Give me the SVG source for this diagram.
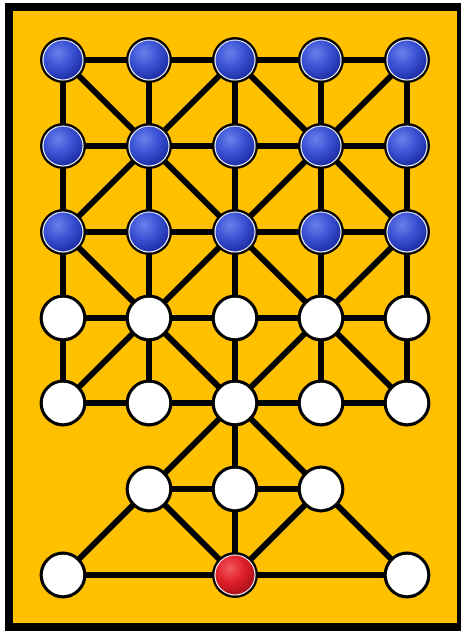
<svg xmlns="http://www.w3.org/2000/svg" width="461" height="631" viewBox="0 0 461 631">
<defs>
<radialGradient id="gBlue" cx="0.38" cy="0.33" r="0.72">
<stop offset="0" stop-color="#6a80ec"/>
<stop offset="0.5" stop-color="#3a52d4"/>
<stop offset="1" stop-color="#1c2ca2"/>
</radialGradient>
<radialGradient id="gRed" cx="0.38" cy="0.33" r="0.72">
<stop offset="0" stop-color="#f25a60"/>
<stop offset="0.5" stop-color="#e0202a"/>
<stop offset="1" stop-color="#a80e18"/>
</radialGradient>
<style>
.ln{stroke:#000;stroke-width:6;stroke-linecap:round;fill:none}
.w{fill:#fff;stroke:#000;stroke-width:3.2}
.bo{fill:#000}
.br{fill:#fff}
</style>
</defs>
<rect x="0" y="0" width="461" height="631" fill="#fff"/>
<rect x="9" y="7" width="452" height="620" fill="#FFC000" stroke="#000" stroke-width="8"/>
<g id="connectors" class="ln">
<line x1="63" y1="60" x2="407" y2="60"/>
<line x1="63" y1="146" x2="407" y2="146"/>
<line x1="63" y1="232" x2="407" y2="232"/>
<line x1="63" y1="318" x2="407" y2="318"/>
<line x1="63" y1="403" x2="407" y2="403"/>
<line x1="63" y1="60" x2="63" y2="403"/>
<line x1="149" y1="60" x2="149" y2="403"/>
<line x1="235" y1="60" x2="235" y2="489"/>
<line x1="321" y1="60" x2="321" y2="403"/>
<line x1="407" y1="60" x2="407" y2="403"/>
<line x1="63" y1="60" x2="407" y2="403"/>
<line x1="407" y1="60" x2="63" y2="403"/>
<line x1="235" y1="60" x2="63" y2="232"/>
<line x1="235" y1="60" x2="407" y2="232"/>
<line x1="63" y1="232" x2="235" y2="403"/>
<line x1="407" y1="232" x2="235" y2="403"/>
<line x1="235" y1="403" x2="63" y2="575"/>
<line x1="235" y1="403" x2="407" y2="575"/>
<line x1="149" y1="489" x2="321" y2="489"/>
<line x1="149" y1="489" x2="235" y2="575"/>
<line x1="321" y1="489" x2="235" y2="575"/>
<line x1="235" y1="489" x2="235" y2="575"/>
<line x1="63" y1="575" x2="407" y2="575"/>
</g>
<g id="b00"><circle class="bo" cx="63" cy="60" r="23"/><circle class="br" cx="63" cy="60" r="20.6"/><circle cx="63" cy="60" r="19.5" fill="url(#gBlue)"/></g>
<g id="b10"><circle class="bo" cx="149" cy="60" r="23"/><circle class="br" cx="149" cy="60" r="20.6"/><circle cx="149" cy="60" r="19.5" fill="url(#gBlue)"/></g>
<g id="b20"><circle class="bo" cx="235" cy="60" r="23"/><circle class="br" cx="235" cy="60" r="20.6"/><circle cx="235" cy="60" r="19.5" fill="url(#gBlue)"/></g>
<g id="b30"><circle class="bo" cx="321" cy="60" r="23"/><circle class="br" cx="321" cy="60" r="20.6"/><circle cx="321" cy="60" r="19.5" fill="url(#gBlue)"/></g>
<g id="b40"><circle class="bo" cx="407" cy="60" r="23"/><circle class="br" cx="407" cy="60" r="20.6"/><circle cx="407" cy="60" r="19.5" fill="url(#gBlue)"/></g>
<g id="b01"><circle class="bo" cx="63" cy="146" r="23"/><circle class="br" cx="63" cy="146" r="20.6"/><circle cx="63" cy="146" r="19.5" fill="url(#gBlue)"/></g>
<g id="b11"><circle class="bo" cx="149" cy="146" r="23"/><circle class="br" cx="149" cy="146" r="20.6"/><circle cx="149" cy="146" r="19.5" fill="url(#gBlue)"/></g>
<g id="b21"><circle class="bo" cx="235" cy="146" r="23"/><circle class="br" cx="235" cy="146" r="20.6"/><circle cx="235" cy="146" r="19.5" fill="url(#gBlue)"/></g>
<g id="b31"><circle class="bo" cx="321" cy="146" r="23"/><circle class="br" cx="321" cy="146" r="20.6"/><circle cx="321" cy="146" r="19.5" fill="url(#gBlue)"/></g>
<g id="b41"><circle class="bo" cx="407" cy="146" r="23"/><circle class="br" cx="407" cy="146" r="20.6"/><circle cx="407" cy="146" r="19.5" fill="url(#gBlue)"/></g>
<g id="b02"><circle class="bo" cx="63" cy="232" r="23"/><circle class="br" cx="63" cy="232" r="20.6"/><circle cx="63" cy="232" r="19.5" fill="url(#gBlue)"/></g>
<g id="b12"><circle class="bo" cx="149" cy="232" r="23"/><circle class="br" cx="149" cy="232" r="20.6"/><circle cx="149" cy="232" r="19.5" fill="url(#gBlue)"/></g>
<g id="b22"><circle class="bo" cx="235" cy="232" r="23"/><circle class="br" cx="235" cy="232" r="20.6"/><circle cx="235" cy="232" r="19.5" fill="url(#gBlue)"/></g>
<g id="b32"><circle class="bo" cx="321" cy="232" r="23"/><circle class="br" cx="321" cy="232" r="20.6"/><circle cx="321" cy="232" r="19.5" fill="url(#gBlue)"/></g>
<g id="b42"><circle class="bo" cx="407" cy="232" r="23"/><circle class="br" cx="407" cy="232" r="20.6"/><circle cx="407" cy="232" r="19.5" fill="url(#gBlue)"/></g>
<g id="w03"><circle class="w" cx="63" cy="318" r="21.8"/></g>
<g id="w13"><circle class="w" cx="149" cy="318" r="21.8"/></g>
<g id="w23"><circle class="w" cx="235" cy="318" r="21.8"/></g>
<g id="w33"><circle class="w" cx="321" cy="318" r="21.8"/></g>
<g id="w43"><circle class="w" cx="407" cy="318" r="21.8"/></g>
<g id="w04"><circle class="w" cx="63" cy="403" r="21.8"/></g>
<g id="w14"><circle class="w" cx="149" cy="403" r="21.8"/></g>
<g id="w24"><circle class="w" cx="235" cy="403" r="21.8"/></g>
<g id="w34"><circle class="w" cx="321" cy="403" r="21.8"/></g>
<g id="w44"><circle class="w" cx="407" cy="403" r="21.8"/></g>
<g id="w15"><circle class="w" cx="149" cy="489" r="21.8"/></g>
<g id="w25"><circle class="w" cx="235" cy="489" r="21.8"/></g>
<g id="w35"><circle class="w" cx="321" cy="489" r="21.8"/></g>
<g id="w06"><circle class="w" cx="63" cy="575" r="21.8"/></g>
<g id="r26"><circle class="bo" cx="235" cy="575" r="23"/><circle class="br" cx="235" cy="575" r="20.6"/><circle cx="235" cy="575" r="19.5" fill="url(#gRed)"/></g>
<g id="w46"><circle class="w" cx="407" cy="575" r="21.8"/></g>
</svg>
